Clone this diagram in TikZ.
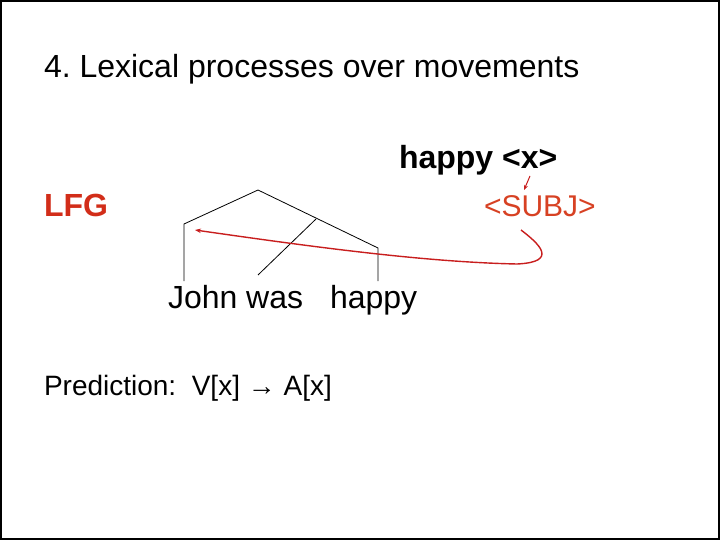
\documentclass[tikz,border=0pt]{standalone}
\usepackage{fontspec}
\setmainfont{Liberation Sans}
\frenchspacing
\usetikzlibrary{arrows.meta}
\definecolor{arrred}{RGB}{200,30,30}
\definecolor{lfgred}{RGB}{210,45,25}
\definecolor{subjred}{RGB}{215,65,35}
\begin{document}
\begin{tikzpicture}[x=1pt,y=-1pt,
  txt/.style={anchor=base west,inner sep=0pt,outer sep=0pt},
  branch/.style={draw=black,line width=0.8pt},
  redarrow/.style={draw=arrred,line width=1.4pt,-{Stealth[length=6pt,width=4.5pt]}}]
\useasboundingbox (0,0) rectangle (720,540);
\draw[line width=2pt] (1,1) rectangle (719,539);
% texts
\node[txt,font=\fontsize{32}{36}\selectfont] (title) at (44,78) {4. Lexical processes over movements};
\node[txt,font=\fontsize{32}{36}\selectfont\bfseries] (happyx) at (399,169) {happy <x>};
\node[txt,font=\fontsize{32}{36}\selectfont\bfseries,text=lfgred] (lfg) at (44,216) {LFG};
\node[txt,font=\fontsize{30}{34}\selectfont,text=subjred] (subj) at (484,217) {<SUBJ>};
\node[txt,font=\fontsize{32}{36}\selectfont] (john) at (168,308) {John was};
\node[txt,font=\fontsize{32}{36}\selectfont] (happy) at (330,308) {happy};
\node[txt,font=\fontsize{28}{32}\selectfont] (pred) at (44,395) {Prediction:\ \ V[x] → A[x]};
% tree
\coordinate (root) at (258,190);
\coordinate (lc) at (184,224);
\coordinate (rc) at (378,248);
\coordinate (mid) at (316,219);
\coordinate (lb) at (184,281);
\coordinate (mb) at (258,275);
\coordinate (rb) at (378,281);
\draw[branch] (lb) -- (lc) -- (root) -- (rc) -- (rb);
\draw[branch] (mid) -- (mb);
% red arrows
\coordinate (xs) at (530,176);
\coordinate (xe) at (524,190);
\draw[redarrow,line width=1pt,-{Stealth[length=5pt,width=4pt]}] (xs) -- (xe);
\coordinate (cs) at (521,230);
\coordinate (cb) at (517,264);
\coordinate (ce) at (195,230);
\draw[redarrow] (cs) .. controls (538,243) and (560,262) .. (cb)
  .. controls (420,262) and (300,245) .. (ce);
\end{tikzpicture}
\end{document}
